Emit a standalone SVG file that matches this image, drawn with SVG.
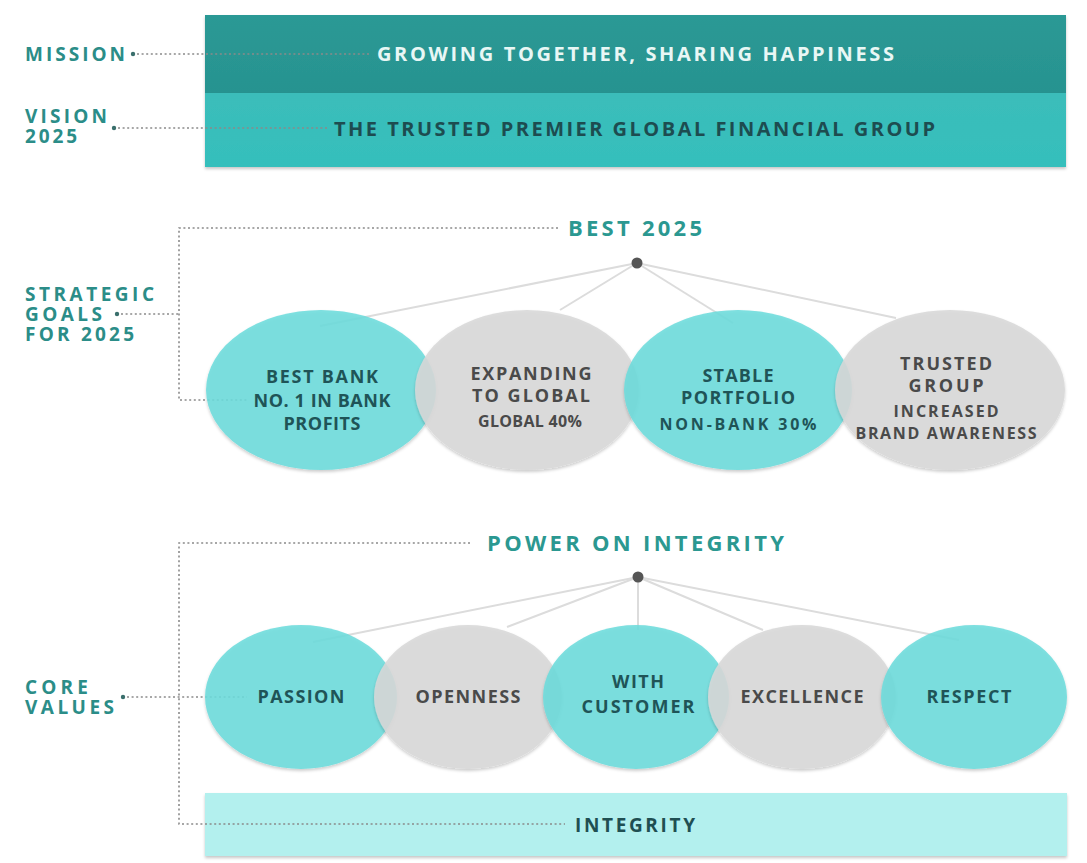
<svg xmlns="http://www.w3.org/2000/svg" width="1087" height="863" viewBox="0 0 1087 863">
<style>
text{font-family:"Open Sans","Liberation Sans",sans-serif;font-weight:bold}
.lbl{font-size:19px;fill:#2b8d88}
.head{font-size:22px;fill:#2b9891}
.ct{font-size:18px;fill:#1f5457;text-anchor:middle}
.cg{font-size:18px;fill:#4a4a4a;text-anchor:middle}
.cs{font-size:16px}
.dot{stroke:#8a8a8a;stroke-width:1.6;stroke-dasharray:2 2.6;fill:none}
.hub{stroke:#dcdcdc;stroke-width:2;fill:none}
.teal{fill:#6ddcdc;fill-opacity:0.88}
.gray{fill:#d8d8d8;fill-opacity:0.88}
</style>
<defs>
<filter id="sh" x="-10%" y="-10%" width="120%" height="130%">
<feDropShadow dx="0" dy="2" stdDeviation="1.5" flood-color="#000" flood-opacity="0.22"/>
</filter>
<linearGradient id="gm" x1="0" y1="0" x2="0" y2="1"><stop offset="0" stop-color="#2b9995"/><stop offset="1" stop-color="#279390"/></linearGradient>
<linearGradient id="gv" x1="0" y1="0" x2="0" y2="1"><stop offset="0" stop-color="#3bbdba"/><stop offset="1" stop-color="#35bfbc"/></linearGradient>
</defs>
<rect width="1087" height="863" fill="#ffffff"/>

<g id="mission">
<rect x="205" y="15" width="861" height="78" fill="url(#gm)" filter="url(#sh)"/>
<text class="lbl" x="25" y="61" textLength="100" lengthAdjust="spacing">MISSION</text>
<text x="377" y="61" font-size="20" fill="#e8f7f5" textLength="517" lengthAdjust="spacing">GROWING TOGETHER, SHARING HAPPINESS</text>
</g>
<g id="vision">
<rect x="205" y="93" width="861" height="74" fill="url(#gv)" filter="url(#sh)"/>
<text class="lbl" x="25" y="123" textLength="82" lengthAdjust="spacing">VISION</text>
<text class="lbl" x="25" y="143" textLength="52" lengthAdjust="spacing">2025</text>
<text x="334" y="136" font-size="20" fill="#1d4c50" textLength="601" lengthAdjust="spacing">THE TRUSTED PREMIER GLOBAL FINANCIAL GROUP</text>
</g>

<g id="connectors">
<circle cx="133" cy="54" r="2.2" fill="#3a6f6c"/>
<line class="dot" x1="137" y1="54" x2="370" y2="54" stroke="#b9dedb"/>
<circle cx="114" cy="128" r="2.2" fill="#3a6f6c"/>
<line class="dot" x1="118" y1="128" x2="327" y2="128"/>
<circle cx="117" cy="314" r="2.2" fill="#3a6f6c"/>
<line class="dot" x1="121" y1="314" x2="179" y2="314"/>
<polyline class="dot" points="558,228 179,228 179,400 247,400"/>
<circle cx="123" cy="697" r="2.2" fill="#3a6f6c"/>
<line class="dot" x1="127" y1="697" x2="247" y2="697"/>
<polyline class="dot" points="470,543 179,543 179,824 565,824"/>
<line class="hub" x1="637" y1="263" x2="320" y2="326"/>
<line class="hub" x1="637" y1="263" x2="560" y2="310"/>
<line class="hub" x1="637" y1="263" x2="733" y2="323"/>
<line class="hub" x1="637" y1="263" x2="896" y2="318"/>
<line class="hub" x1="638" y1="577" x2="313" y2="642"/>
<line class="hub" x1="638" y1="577" x2="507" y2="627"/>
<line class="hub" x1="638" y1="577" x2="638" y2="630"/>
<line class="hub" x1="638" y1="577" x2="763" y2="630"/>
<line class="hub" x1="638" y1="577" x2="959" y2="640"/>
</g>

<g id="strategic-goals">
<text class="lbl" x="25" y="301" textLength="129" lengthAdjust="spacing">STRATEGIC</text>
<text class="lbl" x="25" y="321" textLength="77" lengthAdjust="spacing">GOALS</text>
<text class="lbl" x="25" y="341" textLength="109" lengthAdjust="spacing">FOR 2025</text>
</g>
<g id="best-2025">
<text class="head" x="568" y="236" textLength="134" lengthAdjust="spacing">BEST 2025</text>
<circle cx="637" cy="263" r="5.5" fill="#555"/>
</g>

<g id="goal-best-bank">
<ellipse class="teal" cx="321" cy="390" rx="115" ry="80" filter="url(#sh)"/>
<text class="ct" x="322" y="383" textLength="112" lengthAdjust="spacing">BEST BANK</text>
<text class="ct" x="322" y="407" textLength="137" lengthAdjust="spacing">NO. 1 IN BANK</text>
<text class="ct" x="322" y="430" textLength="77" lengthAdjust="spacing">PROFITS</text>
</g>
<g id="goal-expanding">
<ellipse class="gray" cx="527" cy="390" rx="112" ry="80" filter="url(#sh)"/>
<text class="cg" x="531" y="380" textLength="121" lengthAdjust="spacing">EXPANDING</text>
<text class="cg" x="531" y="402" textLength="118" lengthAdjust="spacing">TO GLOBAL</text>
<text class="cg cs" x="530" y="427" textLength="104" lengthAdjust="spacing">GLOBAL 40%</text>
</g>
<g id="goal-stable">
<ellipse class="teal" cx="738" cy="390" rx="114" ry="80" filter="url(#sh)"/>
<text class="ct" x="738" y="382" textLength="71" lengthAdjust="spacing">STABLE</text>
<text class="ct" x="738" y="404" textLength="114" lengthAdjust="spacing">PORTFOLIO</text>
<text class="ct cs" x="738" y="430" textLength="157" lengthAdjust="spacing">NON-BANK 30%</text>
</g>
<g id="goal-trusted">
<ellipse class="gray" cx="950" cy="390" rx="115" ry="80" filter="url(#sh)"/>
<text class="cg" x="946" y="370" textLength="92" lengthAdjust="spacing">TRUSTED</text>
<text class="cg" x="946" y="392" textLength="75" lengthAdjust="spacing">GROUP</text>
<text class="cg cs" x="946" y="417" textLength="105" lengthAdjust="spacing">INCREASED</text>
<text class="cg cs" x="946" y="439" textLength="181" lengthAdjust="spacing">BRAND AWARENESS</text>
</g>

<g id="core-values">
<text class="lbl" x="25" y="694" textLength="63" lengthAdjust="spacing">CORE</text>
<text class="lbl" x="25" y="714" textLength="89" lengthAdjust="spacing">VALUES</text>
</g>
<g id="power-on-integrity">
<text class="head" x="487" y="551" textLength="297" lengthAdjust="spacing">POWER ON INTEGRITY</text>
<circle cx="638" cy="577" r="5.5" fill="#555"/>
</g>

<g id="value-passion">
<ellipse class="teal" cx="301" cy="697" rx="96" ry="72" filter="url(#sh)"/>
<text class="ct" x="301" y="703" textLength="87" lengthAdjust="spacing">PASSION</text>
</g>
<g id="value-openness">
<ellipse class="gray" cx="468" cy="697" rx="94" ry="72" filter="url(#sh)"/>
<text class="cg" x="468" y="703" textLength="105" lengthAdjust="spacing">OPENNESS</text>
</g>
<g id="value-with-customer">
<ellipse class="teal" cx="636" cy="697" rx="93" ry="72" filter="url(#sh)"/>
<text class="ct" x="638" y="688" textLength="52" lengthAdjust="spacing">WITH</text>
<text class="ct" x="638" y="713" textLength="113" lengthAdjust="spacing">CUSTOMER</text>
</g>
<g id="value-excellence">
<ellipse class="gray" cx="802" cy="697" rx="94" ry="72" filter="url(#sh)"/>
<text class="cg" x="802" y="703" textLength="123" lengthAdjust="spacing">EXCELLENCE</text>
</g>
<g id="value-respect">
<ellipse class="teal" cx="974" cy="697" rx="93" ry="72" filter="url(#sh)"/>
<text class="ct" x="969" y="703" textLength="85" lengthAdjust="spacing">RESPECT</text>
</g>

<g id="integrity">
<rect x="205" y="793" width="862" height="63" fill="#b3f0ee" filter="url(#sh)"/>
<line class="dot" x1="205" y1="824" x2="565" y2="824"/>
<text x="575" y="832" font-size="19" fill="#1f4f52" textLength="120" lengthAdjust="spacing">INTEGRITY</text>
</g>
</svg>
